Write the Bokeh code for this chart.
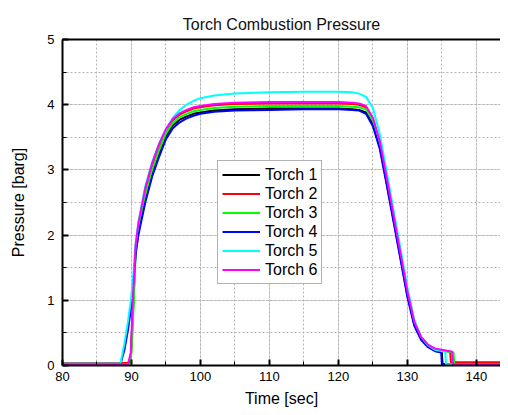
from bokeh.plotting import figure
from bokeh.models import (Range1d, LinearAxis, SingleIntervalTicker, FixedTicker,
                          Legend, LegendItem, Grid)
from bokeh.embed import file_html
from bokeh.resources import INLINE

# ---------------- data ----------------
t_main = [80, 88.4, 89.0, 89.5, 89.9, 90.2, 90.6, 91, 92, 93, 94, 95, 96, 97, 98, 99,
          100, 102, 105, 110, 115, 120, 122, 123, 124, 125, 126, 127, 128, 129, 130,
          131, 132, 133, 134]

torch1 = [0.02, 0.02, 0.02, 0.02, 0.08, 0.8, 1.75, 2.05, 2.55, 2.95, 3.25, 3.52, 3.68, 3.77,
          3.82, 3.86, 3.88, 3.91, 3.93, 3.94, 3.94, 3.94, 3.93, 3.92, 3.88, 3.7, 3.36, 2.8,
          2.23, 1.66, 1.08, 0.63, 0.41, 0.29, 0.23]
torch2 = [0.04, 0.04, 0.04, 0.04, 0.12, 0.9, 1.8, 2.12, 2.65, 3.05, 3.35, 3.6, 3.76, 3.85,
          3.9, 3.94, 3.96, 3.99, 4.01, 4.02, 4.02, 4.02, 4.01, 4.0, 3.96, 3.78, 3.42, 2.86,
          2.28, 1.7, 1.12, 0.66, 0.43, 0.31, 0.25]
torch3 = [0.02, 0.02, 0.02, 0.02, 0.03, 0.6, 1.7, 2.08, 2.6, 3.0, 3.3, 3.56, 3.72, 3.81,
          3.86, 3.9, 3.92, 3.95, 3.97, 3.98, 3.98, 3.98, 3.97, 3.96, 3.93, 3.76, 3.4, 2.84,
          2.26, 1.68, 1.1, 0.64, 0.42, 0.3, 0.24]
torch4 = [0.02, 0.02, 0.25, 0.55, 0.85, 1.2, 1.7, 2.0, 2.5, 2.9, 3.2, 3.47, 3.64, 3.73,
          3.79, 3.83, 3.86, 3.89, 3.91, 3.92, 3.93, 3.93, 3.92, 3.91, 3.86, 3.67, 3.32, 2.77,
          2.2, 1.63, 1.05, 0.61, 0.39, 0.28, 0.22]
torch5 = [0.03, 0.03, 0.35, 0.68, 1.0, 1.3, 1.85, 2.2, 2.75, 3.12, 3.4, 3.62, 3.8, 3.92,
          4.0, 4.06, 4.1, 4.14, 4.17, 4.19, 4.2, 4.2, 4.19, 4.17, 4.12, 3.95, 3.55, 2.97,
          2.38, 1.8, 1.2, 0.7, 0.44, 0.31, 0.24]
torch6 = [0.02, 0.02, 0.02, 0.02, 0.2, 1.0, 1.85, 2.18, 2.72, 3.1, 3.4, 3.63, 3.78, 3.87,
          3.92, 3.96, 3.98, 4.01, 4.03, 4.04, 4.04, 4.04, 4.03, 4.02, 3.98, 3.8, 3.44, 2.88,
          2.3, 1.72, 1.14, 0.67, 0.44, 0.32, 0.26]

# tail: time of shut-off step and values
tail_t = {
    "Torch 1": [135.0, 135.1, 145.0],
    "Torch 2": [136.2, 136.3, 145.0],
    "Torch 3": [136.7, 136.8, 145.0],
    "Torch 4": [134.9, 135.0, 145.0],
    "Torch 5": [135.5, 135.6, 145.0],
    "Torch 6": [136.5, 136.6, 145.0],
}
tail_p = {
    "Torch 1": [0.2, 0.02, 0.02],
    "Torch 2": [0.21, 0.05, 0.05],
    "Torch 3": [0.2, 0.02, 0.02],
    "Torch 4": [0.2, 0.02, 0.02],
    "Torch 5": [0.21, 0.02, 0.02],
    "Torch 6": [0.21, 0.02, 0.02],
}
names = ["Torch 1", "Torch 2", "Torch 3", "Torch 4", "Torch 5", "Torch 6"]
series = [torch1, torch2, torch3, torch4, torch5, torch6]
colors = ["#000000", "#ff0000", "#00ff00", "#0000ff", "#00ffff", "#ff00ff"]

FONT = "Liberation Sans"

p = figure(width=500, height=413, x_range=Range1d(80, 143.5), y_range=Range1d(0, 5),
           output_backend="svg", toolbar_location=None,
           min_border_left=62, min_border_right=0, min_border_top=39, min_border_bottom=48,
           x_axis_location=None, y_axis_location=None)
p.outline_line_color = None
p.background_fill_color = "white"
p.border_fill_color = "white"

p.title.text = "Torch Combustion Pressure"
p.title.text_font = FONT
p.title.text_font_size = "16px"
p.title.text_font_style = "normal"
p.title.text_color = "#111111"
p.title.align = "center"
p.title.vertical_align = "top"
p.title.standoff = 10

xt = SingleIntervalTicker(interval=10, num_minor_ticks=2)
yt = SingleIntervalTicker(interval=1, num_minor_ticks=2)

xaxis = LinearAxis(ticker=xt, axis_label="Time [sec]")
yaxis = LinearAxis(ticker=yt, axis_label="Pressure [barg]")
for ax in (xaxis, yaxis):
    ax.axis_line_width = 2
    ax.axis_line_color = "black"
    ax.major_tick_in = 6
    ax.major_tick_out = 0
    ax.minor_tick_in = 4
    ax.minor_tick_out = 0
    ax.major_tick_line_width = 2
    ax.minor_tick_line_width = 1
    ax.major_tick_line_color = "black"
    ax.minor_tick_line_color = "black"
    ax.major_label_text_font = FONT
    ax.major_label_text_font_size = "13px"
    ax.major_label_text_color = "black"
    ax.axis_label_text_font = FONT
    ax.axis_label_text_font_size = "16px"
    ax.axis_label_text_font_style = "normal"
    ax.axis_label_text_color = "black"
xaxis.major_label_standoff = 6
xaxis.axis_label_standoff = 6
yaxis.major_label_standoff = 8
yaxis.axis_label_standoff = 17
p.add_layout(xaxis, "below")
p.add_layout(yaxis, "left")

top = LinearAxis(ticker=FixedTicker(ticks=[]))
top.axis_line_width = 2
top.axis_line_color = "black"
top.major_label_text_font_size = "0px"
p.add_layout(top, "above")

gx = Grid(dimension=0, ticker=xt)
gy = Grid(dimension=1, ticker=yt)
for g in (gx, gy):
    g.grid_line_color = "#b4b4b4"
    g.grid_line_dash = "2 2"
    g.grid_line_width = 1
    g.minor_grid_line_color = "#b4b4b4"
    g.minor_grid_line_dash = "2 2"
    g.minor_grid_line_width = 1
p.add_layout(gx, "center")
p.add_layout(gy, "center")

items = []
for name, vals, col in zip(names, series, colors):
    t = t_main + tail_t[name]
    v = vals + tail_p[name]
    r = p.line(t, v, line_color=col, line_width=2)
    items.append(LegendItem(label=name, renderers=[r]))

legend = Legend(items=items, location=(155, 81))
legend.label_text_font = FONT
legend.label_text_font_size = "16px"
legend.label_text_color = "black"
legend.glyph_width = 38
legend.glyph_height = 19
legend.label_height = 19
legend.label_standoff = 5
legend.spacing = 0
legend.padding = 4
legend.margin = 0
legend.border_line_color = "#666666"
legend.border_line_width = 1.5
legend.background_fill_alpha = 1
p.add_layout(legend, "center")

open("out.html", "w").write(file_html(p, INLINE))
